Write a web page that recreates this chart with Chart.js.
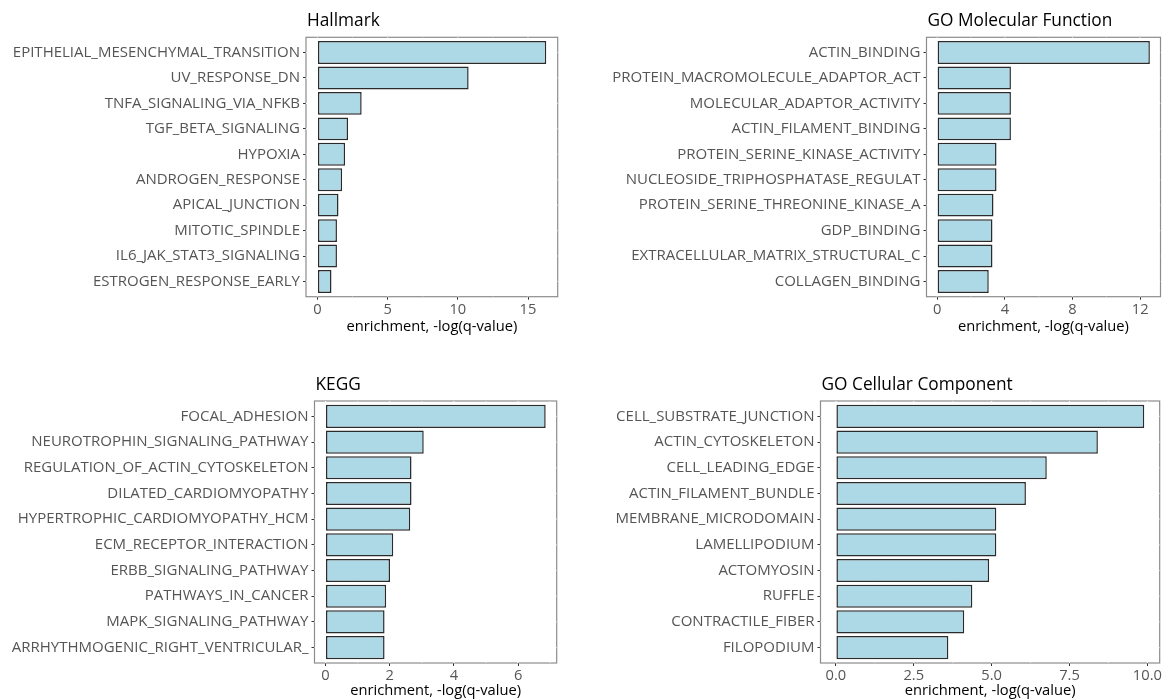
<!DOCTYPE html>
<html>
<head>
<meta charset="utf-8">
<title>Gene set enrichment</title>
<script src="https://cdn.jsdelivr.net/npm/chart.js@4.4.1/dist/chart.umd.min.js"></script>
<style>
  html, body { margin: 0; padding: 0; background: #ffffff; }
  body { width: 1163px; height: 700px; position: relative; overflow: hidden; }
  canvas { position: absolute; }
</style>
</head>
<body>
<canvas id="hallmark"></canvas>
<canvas id="goMf"></canvas>
<canvas id="kegg"></canvas>
<canvas id="goCc"></canvas>
<script>
// ---- data: enrichment scores, -log(q-value), top 10 gene sets per collection ----
const hallmarkTerms = [
  "EPITHELIAL_MESENCHYMAL_TRANSITION", "UV_RESPONSE_DN", "TNFA_SIGNALING_VIA_NFKB",
  "TGF_BETA_SIGNALING", "HYPOXIA", "ANDROGEN_RESPONSE", "APICAL_JUNCTION",
  "MITOTIC_SPINDLE", "IL6_JAK_STAT3_SIGNALING", "ESTROGEN_RESPONSE_EARLY"
];
const hallmarkScores = [16.3, 10.77, 3.15, 2.18, 1.97, 1.76, 1.50, 1.39, 1.39, 1.00];
const hallmarkTicks = [0, 5, 10, 15];
const hallmarkTickLabels = ["0", "5", "10", "15"];

const goMfTerms = [
  "ACTIN_BINDING", "PROTEIN_MACROMOLECULE_ADAPTOR_ACT", "MOLECULAR_ADAPTOR_ACTIVITY",
  "ACTIN_FILAMENT_BINDING", "PROTEIN_SERINE_KINASE_ACTIVITY", "NUCLEOSIDE_TRIPHOSPHATASE_REGULAT",
  "PROTEIN_SERINE_THREONINE_KINASE_A", "GDP_BINDING", "EXTRACELLULAR_MATRIX_STRUCTURAL_C",
  "COLLAGEN_BINDING"
];
const goMfScores = [12.57, 4.36, 4.36, 4.36, 3.51, 3.51, 3.33, 3.27, 3.27, 3.05];
const goMfTicks = [0, 4, 8, 12];
const goMfTickLabels = ["0", "4", "8", "12"];

const keggTerms = [
  "FOCAL_ADHESION", "NEUROTROPHIN_SIGNALING_PATHWAY", "REGULATION_OF_ACTIN_CYTOSKELETON",
  "DILATED_CARDIOMYOPATHY", "HYPERTROPHIC_CARDIOMYOPATHY_HCM", "ECM_RECEPTOR_INTERACTION",
  "ERBB_SIGNALING_PATHWAY", "PATHWAYS_IN_CANCER", "MAPK_SIGNALING_PATHWAY",
  "ARRHYTHMOGENIC_RIGHT_VENTRICULAR_"
];
const keggScores = [6.86, 3.06, 2.68, 2.68, 2.64, 2.11, 2.01, 1.89, 1.84, 1.84];
const keggTicks = [0, 2, 4, 6];
const keggTickLabels = ["0", "2", "4", "6"];

const goCcTerms = [
  "CELL_SUBSTRATE_JUNCTION", "ACTIN_CYTOSKELETON", "CELL_LEADING_EDGE",
  "ACTIN_FILAMENT_BUNDLE", "MEMBRANE_MICRODOMAIN", "LAMELLIPODIUM", "ACTOMYOSIN",
  "RUFFLE", "CONTRACTILE_FIBER", "FILOPODIUM"
];
const goCcScores = [9.9, 8.41, 6.77, 6.10, 5.15, 5.15, 4.92, 4.38, 4.12, 3.61];
const goCcTicks = [0, 2.5, 5, 7.5, 10];
const goCcTickLabels = ["0.0", "2.5", "5.0", "7.5", "10.0"];

const xAxisTitle = "enrichment, -log(q-value)";

// ---- layout of the 2x2 grid (canvas rectangle and plot panel in page pixels) ----
const panels = [
  { id: "hallmark", title: "Hallmark", terms: hallmarkTerms, scores: hallmarkScores,
    ticks: hallmarkTicks, tickLabels: hallmarkTickLabels,
    rect: { left: 0, top: 0, width: 581, height: 350 }, axisH: 38.5,
    plot: { left: 306, right: 557.7, top: 37.3, bottom: 296.7 } },
  { id: "goMf", title: "GO Molecular Function", terms: goMfTerms, scores: goMfScores,
    ticks: goMfTicks, tickLabels: goMfTickLabels,
    rect: { left: 581, top: 0, width: 582, height: 350 }, axisH: 38.5,
    plot: { left: 926.5, right: 1160.5, top: 37.3, bottom: 296.7 } },
  { id: "kegg", title: "KEGG", terms: keggTerms, scores: keggScores,
    ticks: keggTicks, tickLabels: keggTickLabels,
    rect: { left: 0, top: 350, width: 581, height: 350 }, axisH: 37,
    plot: { left: 314.5, right: 556.7, top: 401, bottom: 663 } },
  { id: "goCc", title: "GO Cellular Component", terms: goCcTerms, scores: goCcScores,
    ticks: goCcTicks, tickLabels: goCcTickLabels,
    rect: { left: 581, top: 350, width: 582, height: 350 }, axisH: 37,
    plot: { left: 820.5, right: 1160.5, top: 401, bottom: 663 } }
];

Chart.defaults.font.family = '"Open Sans", "Noto Sans", sans-serif';

// panel background: grey outline, then white grid lines (major + minor) that
// notch the outline; bars are drawn on top afterwards
const panelBackground = {
  id: "panelBackground",
  beforeDatasetsDraw(chart) {
    const { ctx, chartArea: a, scales } = chart;
    ctx.save();
    ctx.strokeStyle = "#8c8c8c";
    ctx.lineWidth = 1.2;
    ctx.strokeRect(a.left, a.top, a.right - a.left, a.bottom - a.top);

    ctx.beginPath();
    ctx.rect(a.left, a.top, a.right - a.left, a.bottom - a.top);
    ctx.clip();
    ctx.strokeStyle = "#ffffff";
    const xt = scales.x.ticks.map(t => t.value);
    const step = xt.length > 1 ? xt[1] - xt[0] : 1;
    const minors = [];
    for (let v = xt[0] - step / 2; v <= scales.x.max; v += step) {
      if (v >= scales.x.min) minors.push(v);
    }
    ctx.lineWidth = 0.6;
    minors.forEach(v => {
      const px = scales.x.getPixelForValue(v);
      ctx.beginPath(); ctx.moveTo(px, a.top); ctx.lineTo(px, a.bottom); ctx.stroke();
    });
    ctx.lineWidth = 1.1;
    xt.forEach(v => {
      const px = scales.x.getPixelForValue(v);
      ctx.beginPath(); ctx.moveTo(px, a.top); ctx.lineTo(px, a.bottom); ctx.stroke();
    });
    scales.y.ticks.forEach(t => {
      const py = scales.y.getPixelForValue(t.value);
      ctx.beginPath(); ctx.moveTo(a.left, py); ctx.lineTo(a.right, py); ctx.stroke();
    });
    ctx.restore();
  }
};

// panel title, left aligned with the plotting panel
const panelTitle = {
  id: "panelTitle",
  afterDraw(chart, args, opts) {
    const { ctx, chartArea: a } = chart;
    ctx.save();
    ctx.font = '17.3px "Open Sans", "Noto Sans", sans-serif';
    ctx.fillStyle = "#000000";
    ctx.textAlign = "left";
    ctx.textBaseline = "alphabetic";
    ctx.fillText(opts.text, a.left + 1, a.top - opts.gap);
    ctx.restore();
  }
};

function drawPanel(p) {
  const canvas = document.getElementById(p.id);
  canvas.width = p.rect.width;
  canvas.height = p.rect.height;
  canvas.style.left = p.rect.left + "px";
  canvas.style.top = p.rect.top + "px";

  const n = p.terms.length;
  const maxV = Math.max(...p.scores);

  new Chart(canvas, {
    type: "bar",
    data: {
      datasets: [{
        data: p.scores.map((v, i) => ({ x: v, y: i + 1 })),
        backgroundColor: "#ADD8E6",
        borderColor: "#2b2b2b",
        borderWidth: 1.5,
        borderSkipped: false,
        categoryPercentage: 1,
        barPercentage: 0.9
      }]
    },
    options: {
      indexAxis: "y",
      responsive: false,
      maintainAspectRatio: false,
      animation: false,
      events: [],
      layout: {
        padding: {
          left: 0,
          top: p.plot.top - p.rect.top,
          right: p.rect.left + p.rect.width - p.plot.right,
          bottom: Math.max(0, p.rect.top + p.rect.height - p.plot.bottom - p.axisH)
        }
      },
      plugins: {
        legend: { display: false },
        tooltip: { enabled: false },
        panelTitle: { text: p.title, gap: 11 }
      },
      scales: {
        x: {
          type: "linear",
          min: -0.05 * maxV,
          max: 1.05 * maxV,
          afterBuildTicks: s => { s.ticks = p.ticks.map(v => ({ value: v })); },
          afterFit: s => { s.height = p.axisH; },
          grid: { drawOnChartArea: false, tickLength: 3, tickColor: "#333333", tickWidth: 1 },
          border: { display: false },
          ticks: {
            autoSkip: false, maxRotation: 0, padding: 1,
            color: "#555555", font: { size: 14.7 },
            callback: (v, i) => p.tickLabels[i]
          },
          title: {
            display: true, text: xAxisTitle, color: "#000000",
            font: { size: 14.7 }, padding: { top: 0, bottom: 0 }
          }
        },
        y: {
          type: "linear",
          reverse: true,
          offset: false,
          min: 0.4,
          max: n + 0.6,
          afterBuildTicks: s => { s.ticks = p.terms.map((t, i) => ({ value: i + 1 })); },
          afterFit: s => { s.width = p.plot.left - p.rect.left; },
          grid: { offset: false, drawOnChartArea: false, tickLength: 3, tickColor: "#333333", tickWidth: 1 },
          border: { display: false },
          ticks: {
            autoSkip: false, padding: 3,
            color: "#555555", font: { size: 15 },
            callback: v => p.terms[v - 1]
          }
        }
      }
    },
    plugins: [panelBackground, panelTitle]
  });
}

const fontsReady = document.fonts && document.fonts.load
  ? Promise.all([
      document.fonts.load('15px "Open Sans"'),
      document.fonts.load('17px "Open Sans"')
    ]).catch(() => null)
  : Promise.resolve();
fontsReady.then(() => panels.forEach(drawPanel));
</script>
</body>
</html>
